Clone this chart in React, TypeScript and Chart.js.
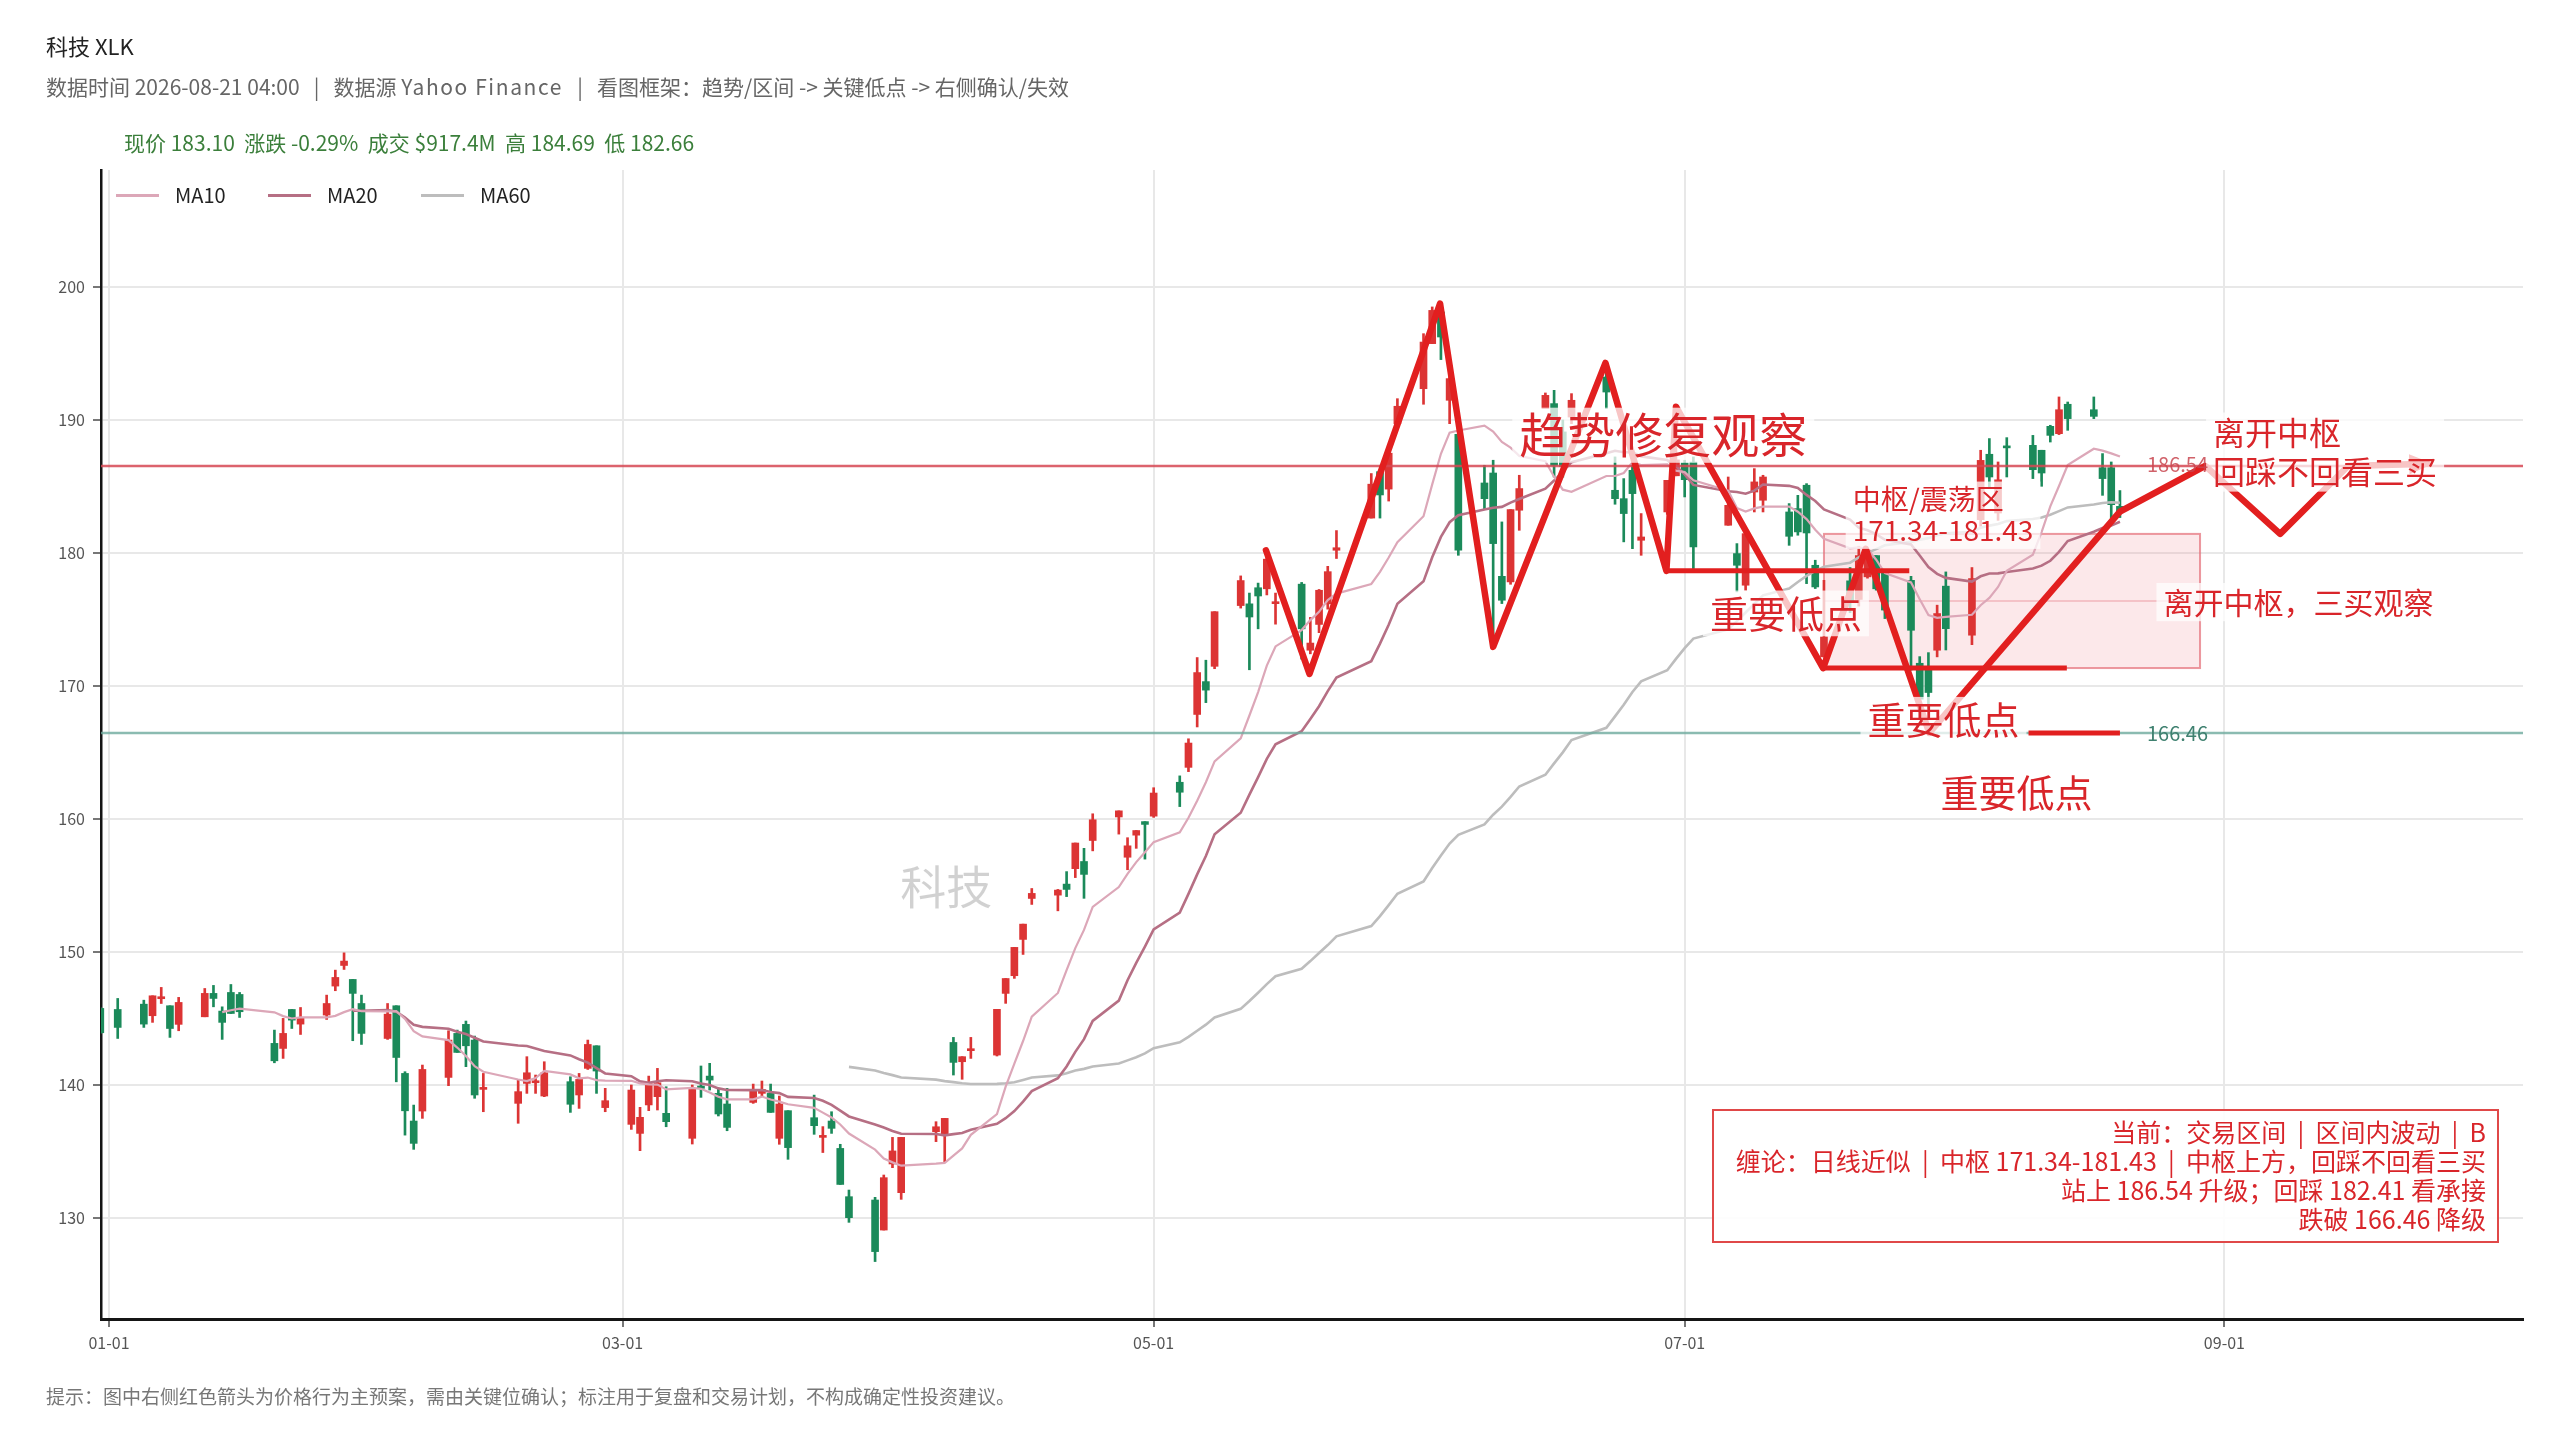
import React, { useEffect, useRef } from 'react';
import { Chart, registerables } from 'chart.js';

Chart.register(...registerables);

// ---------------- data ----------------
const DATES = [
  '2025-12-31', '2026-01-02', '2026-01-05', '2026-01-06', '2026-01-07', '2026-01-08', '2026-01-09', '2026-01-12', '2026-01-13', '2026-01-14',
  '2026-01-15', '2026-01-16', '2026-01-20', '2026-01-21', '2026-01-22', '2026-01-23', '2026-01-26', '2026-01-27', '2026-01-28', '2026-01-29',
  '2026-01-30', '2026-02-02', '2026-02-03', '2026-02-04', '2026-02-05', '2026-02-06', '2026-02-09', '2026-02-10', '2026-02-11', '2026-02-12',
  '2026-02-13', '2026-02-17', '2026-02-18', '2026-02-19', '2026-02-20', '2026-02-23', '2026-02-24', '2026-02-25', '2026-02-26', '2026-02-27',
  '2026-03-02', '2026-03-03', '2026-03-04', '2026-03-05', '2026-03-06', '2026-03-09', '2026-03-10', '2026-03-11', '2026-03-12', '2026-03-13',
  '2026-03-16', '2026-03-17', '2026-03-18', '2026-03-19', '2026-03-20', '2026-03-23', '2026-03-24', '2026-03-25', '2026-03-26', '2026-03-27',
  '2026-03-30', '2026-03-31', '2026-04-01', '2026-04-02', '2026-04-06', '2026-04-07', '2026-04-08', '2026-04-09', '2026-04-10', '2026-04-13',
  '2026-04-14', '2026-04-15', '2026-04-16', '2026-04-17', '2026-04-20', '2026-04-21', '2026-04-22', '2026-04-23', '2026-04-24', '2026-04-27',
  '2026-04-28', '2026-04-29', '2026-04-30', '2026-05-01', '2026-05-04', '2026-05-05', '2026-05-06', '2026-05-07', '2026-05-08', '2026-05-11',
  '2026-05-12', '2026-05-13', '2026-05-14', '2026-05-15', '2026-05-18', '2026-05-19', '2026-05-20', '2026-05-21', '2026-05-22', '2026-05-26',
  '2026-05-27', '2026-05-28', '2026-05-29', '2026-06-01', '2026-06-02', '2026-06-03', '2026-06-04', '2026-06-05', '2026-06-08', '2026-06-09',
  '2026-06-10', '2026-06-11', '2026-06-12', '2026-06-15', '2026-06-16', '2026-06-17', '2026-06-18', '2026-06-22', '2026-06-23', '2026-06-24',
  '2026-06-25', '2026-06-26', '2026-06-29', '2026-06-30', '2026-07-01', '2026-07-02', '2026-07-06', '2026-07-07', '2026-07-08', '2026-07-09',
  '2026-07-10', '2026-07-13', '2026-07-14', '2026-07-15', '2026-07-16', '2026-07-17', '2026-07-20', '2026-07-21', '2026-07-22', '2026-07-23',
  '2026-07-24', '2026-07-27', '2026-07-28', '2026-07-29', '2026-07-30', '2026-07-31', '2026-08-03', '2026-08-04', '2026-08-05', '2026-08-06',
  '2026-08-07', '2026-08-10', '2026-08-11', '2026-08-12', '2026-08-13', '2026-08-14', '2026-08-17', '2026-08-18', '2026-08-19', '2026-08-20',
];

const OPEN = [
  145.74, 145.66, 146.06, 145.19, 146.47, 145.94, 144.54, 145.11, 146.87, 145.54,
  146.94, 146.79, 143.11, 142.73, 145.66, 144.56, 145.24, 147.42, 148.97, 147.92,
  146.11, 143.48, 145.94, 140.85, 137.27, 138.02, 140.55, 143.86, 144.54, 143.36,
  139.65, 138.60, 140.10, 140.15, 139.15, 140.23, 139.23, 141.23, 142.93, 138.28,
  137.02, 136.34, 138.48, 139.10, 137.85, 135.97, 139.90, 140.65, 139.35, 138.55,
  138.67, 139.35, 139.35, 135.97, 138.05, 137.52, 136.04, 137.27, 135.21, 131.58,
  131.33, 129.07, 134.04, 131.88, 136.47, 136.27, 143.18, 141.73, 142.56, 142.23,
  146.87, 148.20, 150.93, 154.01, 154.26, 155.09, 156.25, 156.79, 158.37, 160.14,
  157.11, 158.77, 159.79, 160.20, 162.75, 163.87, 167.85, 170.32, 171.47, 176.04,
  176.17, 177.38, 177.30, 176.18, 177.65, 172.68, 174.62, 176.17, 180.20, 182.62,
  186.11, 184.80, 189.72, 192.35, 195.74, 198.12, 191.48, 188.92, 185.26, 186.01,
  178.24, 177.82, 183.21, 190.85, 191.23, 189.10, 190.22, 193.23, 184.71, 184.08,
  186.21, 180.95, 183.08, 185.80, 186.77, 186.84, 182.08, 179.95, 177.57, 184.58,
  183.96, 183.08, 183.33, 185.09, 179.07, 172.18, 177.90, 176.50, 178.20, 179.80,
  178.70, 177.94, 171.70, 171.20, 172.68, 177.50, 173.81, 182.50, 187.42, 183.00,
  188.02, 188.09, 187.72, 189.52, 188.97, 191.18, 190.77, 186.41, 186.41, 183.50,
];

const HIGH = [
  145.80, 146.49, 146.36, 146.69, 147.32, 145.94, 146.57, 147.24, 147.47, 145.86,
  147.54, 146.94, 144.11, 144.99, 145.66, 145.81, 146.74, 148.62, 149.92, 147.92,
  146.74, 146.11, 145.94, 140.98, 138.47, 141.48, 144.06, 144.11, 144.79, 143.66,
  140.85, 140.35, 142.11, 140.73, 141.73, 140.60, 140.85, 143.36, 142.93, 139.73,
  139.98, 138.30, 140.65, 141.23, 139.85, 139.98, 141.41, 141.61, 139.73, 139.73,
  140.05, 140.28, 140.05, 139.15, 138.05, 139.22, 136.85, 137.97, 135.52, 132.08,
  131.53, 133.21, 136.04, 136.04, 137.22, 137.47, 143.56, 142.11, 143.56, 145.67,
  147.99, 150.33, 152.08, 154.76, 154.69, 156.03, 158.18, 157.78, 160.38, 160.60,
  158.58, 159.12, 159.79, 162.34, 163.23, 166.02, 172.13, 171.93, 175.58, 178.27,
  176.98, 177.73, 179.93, 176.98, 177.78, 175.15, 177.25, 178.99, 181.68, 185.97,
  186.24, 188.00, 191.60, 196.49, 198.50, 198.60, 194.00, 188.92, 186.59, 186.97,
  182.33, 183.26, 185.84, 192.03, 192.23, 190.00, 191.98, 193.73, 187.22, 185.59,
  187.22, 182.96, 185.46, 191.10, 186.97, 187.22, 185.71, 180.70, 181.50, 186.34,
  185.84, 183.71, 184.33, 185.21, 179.45, 177.94, 178.90, 180.50, 180.30, 179.80,
  178.70, 178.24, 172.20, 172.50, 176.07, 178.57, 178.90, 187.72, 188.60, 186.84,
  188.67, 188.84, 187.72, 189.60, 191.73, 191.35, 191.73, 187.47, 186.84, 184.69,
];

const LOW = [
  143.85, 143.48, 144.31, 144.69, 146.11, 143.56, 144.06, 145.11, 145.86, 143.41,
  145.36, 145.06, 141.65, 141.98, 144.23, 143.78, 144.91, 147.07, 148.67, 143.31,
  143.03, 143.41, 140.22, 136.21, 135.14, 137.47, 139.93, 142.43, 141.36, 138.98,
  137.97, 137.10, 139.35, 139.35, 139.10, 137.92, 138.22, 141.15, 139.35, 137.97,
  136.64, 135.04, 138.05, 138.10, 136.84, 135.54, 139.05, 139.60, 137.65, 136.54,
  138.60, 139.10, 137.92, 135.52, 134.39, 136.27, 134.90, 136.34, 132.50, 129.65,
  126.70, 129.07, 133.76, 131.38, 135.72, 134.20, 140.73, 140.41, 141.98, 142.16,
  146.12, 148.00, 149.80, 153.56, 153.08, 154.15, 155.58, 154.02, 157.59, 158.85,
  156.17, 157.78, 156.97, 160.11, 160.92, 163.55, 166.91, 168.74, 171.29, 175.85,
  171.21, 174.29, 176.84, 174.64, 172.01, 172.41, 174.00, 175.77, 179.58, 182.62,
  182.62, 183.90, 189.47, 191.18, 195.74, 194.54, 189.72, 179.82, 183.33, 173.93,
  176.19, 177.64, 181.70, 190.85, 185.71, 185.70, 189.72, 190.85, 183.66, 180.83,
  180.32, 179.82, 182.90, 185.80, 184.21, 178.82, 182.08, 177.07, 177.19, 183.08,
  183.08, 180.57, 181.33, 177.69, 177.32, 172.18, 175.50, 176.00, 178.10, 177.20,
  175.06, 171.18, 168.60, 168.30, 172.18, 172.70, 173.10, 182.00, 184.83, 182.45,
  185.71, 185.59, 185.01, 188.34, 188.90, 189.22, 190.10, 184.33, 182.45, 182.66,
];

const CLOSE = [
  143.91, 144.31, 144.56, 146.69, 146.62, 144.23, 146.19, 146.87, 146.49, 144.69,
  145.36, 145.49, 141.80, 143.86, 144.86, 145.06, 146.11, 148.07, 149.30, 146.87,
  143.86, 145.31, 142.05, 138.04, 135.59, 141.15, 143.36, 142.43, 142.93, 139.23,
  139.70, 139.48, 140.90, 140.30, 140.90, 138.53, 140.40, 143.03, 141.03, 138.80,
  139.60, 137.55, 140.15, 140.15, 137.22, 139.65, 139.73, 140.35, 137.80, 136.79,
  139.60, 139.65, 137.92, 138.55, 135.27, 136.92, 136.17, 136.72, 132.50, 130.00,
  127.45, 133.01, 135.02, 136.04, 136.84, 137.47, 141.68, 142.11, 142.68, 145.67,
  147.99, 150.33, 152.08, 154.39, 154.64, 154.69, 158.18, 155.82, 159.93, 160.60,
  157.97, 159.12, 159.58, 161.94, 162.00, 165.70, 171.00, 169.68, 175.58, 177.92,
  175.18, 176.76, 179.53, 176.31, 174.29, 173.22, 177.19, 178.59, 180.39, 185.17,
  184.36, 187.50, 191.03, 195.86, 198.24, 196.24, 193.11, 180.20, 184.08, 180.70,
  176.44, 183.26, 184.84, 191.85, 186.59, 186.50, 191.48, 192.10, 184.08, 182.96,
  184.46, 181.20, 185.46, 187.00, 185.51, 180.45, 183.58, 179.07, 181.45, 185.34,
  185.71, 181.25, 181.58, 181.50, 177.44, 173.68, 176.40, 179.80, 180.20, 177.30,
  175.70, 174.18, 169.00, 169.50, 175.44, 174.30, 178.07, 186.96, 185.71, 185.50,
  187.90, 186.26, 186.01, 188.84, 190.77, 190.10, 190.27, 185.59, 183.63, 183.10,
];

const MA_PERIODS = [10, 20, 60];
const MA_LABELS = ['MA10', 'MA20', 'MA60'];

// key levels / structure (price levels)
const RESIST_LEVEL = 186.54;
const SUPPORT_LEVEL = 166.46;
const ZS_LOW = 171.34;
const ZS_HIGH = 181.43;
const ZS_START_DAY = 197;
const ZS_END_DAY = 240.2;

// main red structure path (day offset from 2026-01-01, price)
const PATH_DAYS = [132.9, 137.9, 152.9, 159, 171.9, 178.9, 180, 196.9, 201.8, 209.1, 231, 240.8, 249.4, 257.2, 266.3];
const PATH_PRICES = [180.2, 170.9, 198.75, 172.93, 194.29, 178.65, 191.0, 171.34, 180.3, 166.46, 183.1, 186.54, 181.43, 186.54, 186.7];

// thick horizontal marks: start day, end day, price
const MARK_START = [178.9, 196.9, 220.5];
const MARK_END = [206.8, 224.9, 231.0];
const MARK_PRICE = [178.65, 171.34, 166.46];

const X_TICK_DAYS = [0, 59, 120, 181, 243];
const X_TICK_LABELS = ['01-01', '03-01', '05-01', '07-01', '09-01'];
const Y_TICKS = [130, 140, 150, 160, 170, 180, 190, 200];

const X_MIN = -0.92;
const X_MAX = 277.3;
const Y_MIN = 122.38;
const Y_MAX = 208.8;

// ---------------- styles ----------------
const FONT = '"Noto Sans CJK SC", "Noto Sans", sans-serif';
const UP = '#dc3434';
const DOWN = '#1b8a5a';
const MA_COLORS = ['#dca7b8', '#b66f84', '#bdbdbd'];
const MA_WIDTHS = [2.2, 2.6, 2.6];
const ANNO_RED = '#e21f1f';
const TEXT_RED = '#d9252a';

const LABELS = [
  { lines: ['趋势修复观察'], day: 162.0, price: 188.85, size: 48, lh: 0, color: TEXT_RED, bg: true },
  { lines: ['中枢/震荡区', '171.34-181.43'], day: 200.3, price: 184.0, size: 28, lh: 31, color: TEXT_RED, bg: true },
  { lines: ['重要低点'], day: 183.9, price: 175.45, size: 38, lh: 0, color: TEXT_RED, bg: true },
  { lines: ['重要低点'], day: 202.0, price: 167.45, size: 38, lh: 0, color: TEXT_RED, bg: true },
  { lines: ['重要低点'], day: 210.4, price: 162.0, size: 38, lh: 0, color: TEXT_RED, bg: true },
  { lines: ['离开中枢', '回踩不回看三买'], day: 241.7, price: 189.05, size: 32, lh: 39, color: TEXT_RED, bg: true },
  { lines: ['离开中枢，三买观察'], day: 236.0, price: 176.3, size: 30, lh: 0, color: TEXT_RED, bg: true },
  { lines: ['186.54'], day: 234.1, price: 186.62, size: 20, lh: 0, color: 'rgba(200,70,80,0.85)', bg: false },
  { lines: ['166.46'], day: 234.1, price: 166.45, size: 20, lh: 0, color: '#3f8170', bg: false },
];

const dayOf = (s: string) => {
  const [y, m, d] = s.split('-').map(Number);
  return (Date.UTC(y, m - 1, d) - Date.UTC(2026, 0, 1)) / 86400000;
};
const DAYS = DATES.map(dayOf);

function movingAverage(values: number[], n: number) {
  const out: { x: number; y: number }[] = [];
  for (let i = n - 1; i < values.length; i++) {
    let s = 0;
    for (let k = i - n + 1; k <= i; k++) s += values[k];
    out.push({ x: DAYS[i], y: s / n });
  }
  return out;
}

const overlayPlugin = {
  id: 'overlay',
  beforeDatasetsDraw(chart: any) {
    const { ctx, chartArea, scales } = chart;
    const x = scales.x, y = scales.y;
    ctx.save();
    ctx.beginPath();
    ctx.rect(chartArea.left, chartArea.top, chartArea.right - chartArea.left, chartArea.bottom - chartArea.top);
    ctx.clip();
    // watermark
    ctx.font = `46px ${FONT}`;
    ctx.fillStyle = 'rgba(0,0,0,0.18)';
    ctx.textAlign = 'center';
    ctx.textBaseline = 'middle';
    ctx.fillText('科技', chartArea.left + (chartArea.right - chartArea.left) * 0.349, chartArea.top + (chartArea.bottom - chartArea.top) * 0.624);
    // zhongshu box
    const x0 = x.getPixelForValue(ZS_START_DAY), x1 = x.getPixelForValue(ZS_END_DAY);
    const yt = y.getPixelForValue(ZS_HIGH), yb = y.getPixelForValue(ZS_LOW);
    const ym = y.getPixelForValue((ZS_HIGH + ZS_LOW) / 2);
    ctx.fillStyle = 'rgba(236,118,128,0.17)';
    ctx.fillRect(x0, yt, x1 - x0, yb - yt);
    ctx.strokeStyle = 'rgba(228,108,118,0.7)';
    ctx.lineWidth = 2;
    ctx.strokeRect(x0, yt, x1 - x0, yb - yt);
    ctx.strokeStyle = 'rgba(228,120,130,0.45)';
    ctx.lineWidth = 1.5;
    ctx.beginPath();
    ctx.moveTo(x0, ym);
    ctx.lineTo(x1, ym);
    ctx.stroke();
    ctx.restore();
  },
  afterDatasetsDraw(chart: any) {
    const { ctx, chartArea, scales } = chart;
    const x = scales.x, y = scales.y;
    ctx.save();
    ctx.beginPath();
    ctx.rect(chartArea.left, chartArea.top, chartArea.right - chartArea.left, chartArea.bottom - chartArea.top);
    ctx.clip();
    // arrow head at end of path
    const n = PATH_DAYS.length;
    const ax = x.getPixelForValue(PATH_DAYS[n - 1]), ay = y.getPixelForValue(PATH_PRICES[n - 1]);
    const bx = x.getPixelForValue(PATH_DAYS[n - 2]), by = y.getPixelForValue(PATH_PRICES[n - 2]);
    const ang = Math.atan2(ay - by, ax - bx);
    const L = 18, W = 10;
    ctx.fillStyle = ANNO_RED;
    ctx.beginPath();
    ctx.moveTo(ax + Math.cos(ang) * 6, ay + Math.sin(ang) * 6);
    ctx.lineTo(ax - Math.cos(ang) * L + Math.sin(ang) * W, ay - Math.sin(ang) * L - Math.cos(ang) * W);
    ctx.lineTo(ax - Math.cos(ang) * L - Math.sin(ang) * W, ay - Math.sin(ang) * L + Math.cos(ang) * W);
    ctx.closePath();
    ctx.fill();
    // labels
    for (const lb of LABELS) {
      ctx.font = `${lb.size}px ${FONT}`;
      const px = x.getPixelForValue(lb.day);
      const py = y.getPixelForValue(lb.price);
      const w = Math.max(...lb.lines.map((l) => ctx.measureText(l).width));
      if (lb.bg) {
        const top = py - lb.size * 0.47 - 5;
        const bottom = py + (lb.lines.length - 1) * lb.lh + lb.size * 0.47 + 5;
        ctx.fillStyle = 'rgba(255,255,255,0.74)';
        ctx.fillRect(px - 7, top, w + 14, bottom - top);
      }
      ctx.fillStyle = lb.color;
      ctx.textAlign = 'left';
      ctx.textBaseline = 'middle';
      lb.lines.forEach((l, i) => ctx.fillText(l, px, py + i * lb.lh));
    }
    ctx.restore();
  },
};

export default function App() {
  const ref = useRef<HTMLCanvasElement>(null);

  useEffect(() => {
    const upDown = OPEN.map((o, i) => (CLOSE[i] >= o ? UP : DOWN));
    const wickData = DAYS.map((d, i) => ({ x: d, y: [LOW[i], HIGH[i]] }));
    const bodyData = DAYS.map((d, i) => ({ x: d, y: [OPEN[i], CLOSE[i]] }));

    const datasets: any[] = [];
    datasets.push({
      type: 'bar', label: 'wick', data: wickData, backgroundColor: upDown, borderWidth: 0,
      barThickness: 2, grouped: false, order: 21,
    });
    datasets.push({
      type: 'bar', label: 'body', data: bodyData, backgroundColor: upDown, borderColor: upDown, borderWidth: 0,
      barThickness: 7, minBarLength: 2, grouped: false, order: 20,
    });
    MA_PERIODS.forEach((p, k) => {
      datasets.push({
        type: 'line', label: MA_LABELS[k], data: movingAverage(CLOSE, p), borderColor: MA_COLORS[k],
        borderWidth: MA_WIDTHS[k], pointRadius: 0, fill: false, tension: 0, order: 10 + k,
      });
    });
    datasets.push({
      type: 'line', label: 'resist', data: [{ x: X_MIN, y: RESIST_LEVEL }, { x: X_MAX, y: RESIST_LEVEL }],
      borderColor: 'rgba(214,72,84,0.85)', borderWidth: 2.4, pointRadius: 0, order: 6,
    });
    datasets.push({
      type: 'line', label: 'support', data: [{ x: X_MIN, y: SUPPORT_LEVEL }, { x: X_MAX, y: SUPPORT_LEVEL }],
      borderColor: 'rgba(110,170,158,0.8)', borderWidth: 2.4, pointRadius: 0, order: 6,
    });
    MARK_PRICE.forEach((p, k) => {
      datasets.push({
        type: 'line', label: 'mark' + k, data: [{ x: MARK_START[k], y: p }, { x: MARK_END[k], y: p }],
        borderColor: ANNO_RED, borderWidth: 5, pointRadius: 0, order: 3, borderCapStyle: 'butt',
      });
    });
    datasets.push({
      type: 'line', label: 'path', data: PATH_DAYS.map((d, i) => ({ x: d, y: PATH_PRICES[i] })),
      borderColor: ANNO_RED, borderWidth: 6.5, pointRadius: 0, tension: 0, order: 2,
      borderJoinStyle: 'round', borderCapStyle: 'round',
    });

    const chart = new Chart(ref.current as HTMLCanvasElement, {
      type: 'bar',
      data: { datasets },
      options: {
        animation: false,
        responsive: false,
        devicePixelRatio: 1,
        layout: { padding: { left: 0, right: 37, top: 170, bottom: 0 } },
        plugins: { legend: { display: false }, tooltip: { enabled: false }, title: { display: false } },
        scales: {
          x: {
            type: 'linear', min: X_MIN, max: X_MAX, offset: false,
            grid: { color: '#e8e8e8', lineWidth: 2, tickColor: '#777', tickLength: 8, drawTicks: true, offset: false },
            border: { color: '#151515', width: 3 },
            ticks: {
              color: '#555', padding: 6, maxRotation: 0, autoSkip: false,
              font: { family: FONT, size: 16 },
              callback: (v: any, i: number) => X_TICK_LABELS[i] ?? '',
            },
            afterBuildTicks: (s: any) => { s.ticks = X_TICK_DAYS.map((v) => ({ value: v })); },
            afterFit: (s: any) => { s.height = 121; },
          },
          y: {
            type: 'linear', min: Y_MIN, max: Y_MAX,
            grid: { color: '#e8e8e8', lineWidth: 2, tickColor: '#777', tickLength: 8, drawTicks: true },
            border: { color: '#151515', width: 2.5 },
            ticks: { color: '#555', padding: 8, font: { family: FONT, size: 16 } },
            afterBuildTicks: (s: any) => { s.ticks = Y_TICKS.map((v) => ({ value: v })); },
            afterFit: (s: any) => { s.width = 101; },
          },
        },
      } as any,
      plugins: [overlayPlugin],
    } as any);
    return () => chart.destroy();
  }, []);

  const abs = (left: number, top: number, extra: any = {}) => ({
    position: 'absolute' as const, left, top, whiteSpace: 'pre' as const, lineHeight: 1, ...extra,
  });
  const legendX = [116, 268, 421];

  return (
    <div style={{ position: 'absolute', left: 0, top: 0, width: 2560, height: 1440, background: '#fff', fontFamily: FONT, overflow: 'hidden' }}>
      <canvas ref={ref} width={2560} height={1440} style={{ position: 'absolute', left: 0, top: 0, width: 2560, height: 1440 }} />
      <div style={abs(46, 34, { fontSize: 22, color: '#222' })}>科技 XLK</div>
      <div style={abs(46, 76, { fontSize: 21, color: '#666' })}>
        {'数据时间 2026-08-21 04:00   |   数据源 '}
        <span style={{ letterSpacing: 1.6 }}>Yahoo Finance</span>
        {'   |   看图框架：趋势/区间 -> 关键低点 -> 右侧确认/失效'}
      </div>
      <div style={abs(124, 132, { fontSize: 21, color: '#3b7f3b' })}>
        {'现价 183.10  涨跌 -0.29%  成交 $917.4M  高 184.69  低 182.66'}
      </div>
      {MA_LABELS.map((l, k) => (
        <React.Fragment key={l}>
          <div style={{ position: 'absolute', left: legendX[k], top: 194, width: 43, height: 3, background: MA_COLORS[k] }} />
          <div style={abs(legendX[k] + 59, 185, { fontSize: 20, color: '#222' })}>{l}</div>
        </React.Fragment>
      ))}
      <div
        style={{
          position: 'absolute', left: 1712, top: 1109, width: 787, height: 134, border: '2px solid #e04848',
          background: 'rgba(255,255,255,0.9)', color: TEXT_RED, fontSize: 25, lineHeight: '29px', textAlign: 'right',
          padding: '6px 11px 0 0', boxSizing: 'border-box' as const, whiteSpace: 'pre',
        }}
      >
        <div>{'当前：交易区间  |  区间内波动  |  B'}</div>
        <div>{'缠论：日线近似  |  中枢 171.34-181.43  |  中枢上方，回踩不回看三买'}</div>
        <div>{'站上 186.54 升级；回踩 182.41 看承接'}</div>
        <div>{'跌破 166.46 降级'}</div>
      </div>
      <div style={abs(46, 1386, { fontSize: 19, color: '#777' })}>
        提示：图中右侧红色箭头为价格行为主预案，需由关键位确认；标注用于复盘和交易计划，不构成确定性投资建议。
      </div>
    </div>
  );
}
